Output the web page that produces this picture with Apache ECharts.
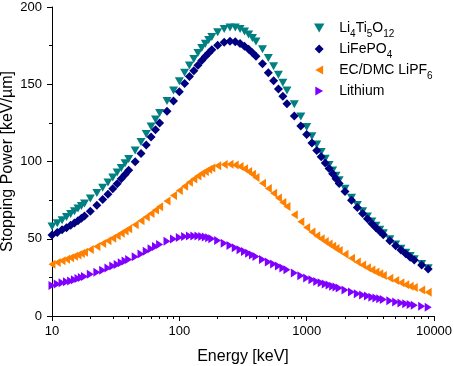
<!DOCTYPE html>
<html>
<head>
<meta charset="utf-8">
<script src="https://cdn.jsdelivr.net/npm/echarts@6.0.0/dist/echarts.min.js"></script>
<style>
html, body { margin: 0; padding: 0; background: #fff; }
#chart { width: 454px; height: 366px; }
</style>
</head>
<body>
<div id="chart"></div>
<script>
// energies in keV (SRIM style grid)
var energies = [10,11,12,13,14,15,16,17,18,20,22.5,25,27.5,30,32.5,35,37.5,40,45,50,55,60,65,70,80,90,
	100,110,120,130,140,150,160,170,180,200,225,250,275,300,325,350,375,400,450,500,550,600,650,700,800,900,
	1000,1100,1200,1300,1400,1500,1600,1700,1800,2000,2250,2500,2750,3000,3250,3500,3750,4000,4500,5000,5500,6000,6500,7000,8000,9000];

var li4ti5o12 = [58.0,60.0,62.0,64.0,66.0,67.8,69.5,71.2,72.8,76.0,79.6,83.0,86.4,89.6,92.8,95.8,98.8,101.6,107.2,112.6,117.8,122.6,127.2,131.4,139.2,146.0,
	152.0,157.4,162.2,166.4,170.2,173.4,176.2,178.6,180.6,183.6,185.8,186.8,186.8,185.8,184.2,182.2,180.0,177.6,172.6,167.0,161.6,156.2,151.0,146.0,137.0,129.2,
	122.4,116.4,111.0,106.2,101.8,97.8,94.2,90.8,87.8,82.4,76.6,71.8,67.8,64.4,61.2,58.4,55.9,53.6,49.6,46.3,43.5,41.0,38.8,36.8,33.6,30.9];

var lifepo4 = [52.5,54.0,55.8,57.2,58.7,60.2,61.7,63.2,64.7,67.8,71.7,75.4,78.8,82.3,85.6,88.8,91.6,94.4,99.8,105.2,110.6,115.8,120.6,125.0,132.6,139.2,
	145.2,150.5,155.0,158.8,162.3,165.4,168.0,170.3,172.3,175.2,177.2,177.9,177.5,176.3,174.6,172.6,170.4,168.2,163.3,157.5,152.2,147.0,142.2,137.4,129.5,123.0,
	117.4,112.0,107.2,103.0,99.0,95.4,92.0,88.8,85.8,80.6,75.0,70.2,66.4,63.0,59.9,57.2,54.8,52.6,48.7,45.5,42.7,40.3,38.1,36.2,33.0,30.4];

var ecdmc = [33.5,34.6,35.7,36.7,37.7,38.6,39.5,40.4,41.3,43.0,45.0,46.9,48.7,50.4,52.0,53.5,55.0,56.4,59.1,61.7,64.1,66.4,68.6,70.7,74.5,78.0,
	81.2,84.0,86.5,88.7,90.6,92.2,93.6,94.8,95.8,97.2,98.0,98.2,97.7,96.7,95.3,93.6,91.7,89.7,86.0,82.6,79.4,76.4,73.5,70.8,65.6,61.0,
	57.3,54.4,52.0,50.0,48.2,46.6,45.1,43.7,42.4,40.0,37.3,34.9,33.0,31.3,29.8,28.5,27.3,26.2,24.4,22.9,21.5,20.3,19.3,18.4,16.8,15.3];

var lithium = [19.8,20.7,21.5,22.1,22.7,23.4,24.2,25.0,25.6,27.0,28.3,29.6,31.0,32.3,33.4,34.5,35.6,36.6,38.4,40.2,41.9,43.5,45.0,46.3,48.4,49.8,
	50.8,51.4,51.7,51.8,51.7,51.5,51.1,50.6,50.0,48.8,47.1,45.6,44.2,42.9,41.7,40.6,39.5,38.5,36.6,35.0,33.6,32.3,31.0,29.9,27.8,26.0,
	24.6,23.4,22.4,21.5,20.7,20.0,19.3,18.7,18.1,16.8,15.5,14.4,13.6,12.9,12.2,11.6,11.1,10.7,9.8,9.0,8.4,7.9,7.4,7.0,6.3,5.7];

var xMajor = [10, 100, 1000, 10000];
var xMinor = [20,30,40,50,60,70,80,90,200,300,400,500,600,700,800,900,2000,3000,4000,5000,6000,7000,8000,9000];

var font = 'Arial, "Liberation Sans", sans-serif';

function pairs(ys) {
	return energies.map(function(e, i){ return [e, ys[i]]; });
}

var symDown = 'path://M0,0L2,0L1,1.73Z';
var symLeft = 'path://M0,1L1.73,0L1.73,2Z';
var symRight = 'path://M0,0L1.73,1L0,2Z';
var symDiamond = 'path://M1,0L2,1L1,2L0,1Z';

var legendNames = {
	'Li4Ti5O12': 'Li{s|4}Ti{s|5}O{s|12}',
	'LiFePO4': 'LiFePO{s|4}',
	'EC/DMC LiPF6': 'EC/DMC LiPF{s|6}',
	'Lithium': 'Lithium'
};

var dom = document.getElementById("chart");
var myChart = echarts.init(dom, null, {renderer: 'canvas'});
var option = {
	animation: false,
	backgroundColor: '#fff',
	grid: { left: 52, right: 20, top: 7, bottom: 50, outerBoundsMode: 'none', containLabel: false },
	legend: {
		orient: 'vertical',
		left: 309,
		top: 11,
		itemWidth: 30,
		itemHeight: 9,
		itemGap: -3,
		symbolKeepAspect: true,
		textStyle: {
			fontFamily: font,
			fontSize: 14,
			color: '#000',
			lineHeight: 24,
			rich: {
				s: { fontFamily: font, fontSize: 10, lineHeight: 10, padding: [13, 0, 0, 0], color: '#000' }
			}
		},
		formatter: function(name){ return legendNames[name] || name; },
		data: [
			{ name: 'Li4Ti5O12', icon: symDown },
			{ name: 'LiFePO4', icon: symDiamond },
			{ name: 'EC/DMC LiPF6', icon: symLeft },
			{ name: 'Lithium', icon: symRight }
		]
	},
	xAxis: [
		{
			type: 'log',
			logBase: 10,
			min: 10,
			max: 10000,
			name: 'Energy [keV]',
			nameLocation: 'middle',
			nameGap: 33,
			nameMoveOverlap: false,
			nameTextStyle: { fontFamily: font, fontSize: 16, color: '#000' },
			axisLine: { lineStyle: { color: '#000', width: 1 } },
			axisTick: { show: true, length: 5, customValues: xMajor, lineStyle: { color: '#000' } },
			axisLabel: { fontFamily: font, fontSize: 13, color: '#000', margin: 9, customValues: xMajor,
				formatter: function(v){ return String(Math.round(v)); } },
			splitLine: { show: false },
			minorTick: { show: false }
		},
		{
			type: 'log',
			logBase: 10,
			min: 10,
			max: 10000,
			position: 'bottom',
			axisLine: { show: false },
			axisTick: { show: true, length: 3, customValues: xMinor, lineStyle: { color: '#000' } },
			axisLabel: { show: false },
			splitLine: { show: false }
		}
	],
	yAxis: {
		type: 'value',
		min: 0,
		max: 200,
		interval: 50,
		name: 'Stopping Power [keV/\u00b5m]',
		nameLocation: 'middle',
		nameGap: 36,
		nameMoveOverlap: false,
		nameTextStyle: { fontFamily: font, fontSize: 16, color: '#000' },
		axisLine: { show: true, lineStyle: { color: '#000', width: 1 } },
		axisTick: { show: true, length: 5, lineStyle: { color: '#000' } },
		minorTick: { show: true, splitNumber: 2, length: 3, lineStyle: { color: '#000' } },
		axisLabel: { fontFamily: font, fontSize: 13, color: '#000', margin: 10 },
		splitLine: { show: false }
	},
	series: [
		{
			name: 'Li4Ti5O12',
			type: 'scatter',
			symbol: symDown,
			symbolSize: [9, 8],
			itemStyle: { color: '#008080', opacity: 1 },
			data: pairs(li4ti5o12)
		},
		{
			name: 'LiFePO4',
			type: 'scatter',
			symbol: symDiamond,
			symbolSize: [9, 9],
			itemStyle: { color: '#000080', opacity: 1 },
			data: pairs(lifepo4)
		},
		{
			name: 'EC/DMC LiPF6',
			type: 'scatter',
			symbol: symLeft,
			symbolSize: [7, 9],
			itemStyle: { color: '#FF8000', opacity: 1 },
			data: pairs(ecdmc)
		},
		{
			name: 'Lithium',
			type: 'scatter',
			symbol: symRight,
			symbolSize: [7, 9],
			itemStyle: { color: '#8000FF', opacity: 1 },
			data: pairs(lithium)
		}
	]
};

if (option && typeof option === "object") {
	myChart.setOption(option, true);
}
</script>
</body>
</html>
